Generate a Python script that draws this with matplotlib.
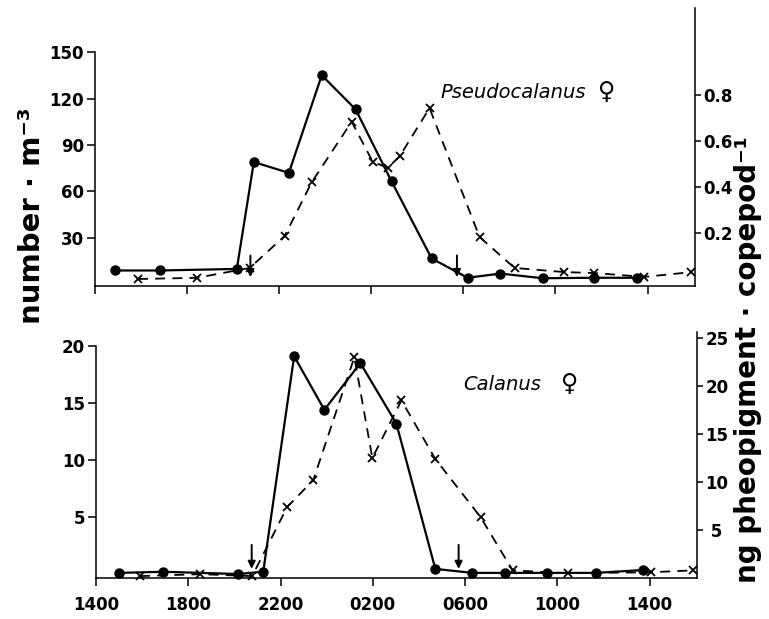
import numpy as np
import matplotlib.pyplot as plt

plt.rcParams['font.family'] = 'DejaVu Sans'
plt.rcParams['axes.linewidth'] = 1.1

# time axis: hours after 1400 h on day 1
tick_hr = [0, 4, 8, 12, 16, 20, 24]
tick_lab = ["1400", "1800", "2200", "0200", "0600", "1000", "1400"]
arrow_hr = [6.75, 15.72]   # sunset / sunrise

## Pseudocalanus females
pc_hr = [0.87, 2.82, 6.16, 6.9, 8.42, 9.85, 11.32, 12.88, 14.62, 16.18, 17.61, 19.44, 21.69, 23.56]
pc_num = [9, 9, 10, 79, 72, 135, 113, 66.5, 16.8, 4.3, 7.0, 4.0, 4.3, 4.3]
pc_pig_hr = [1.87, 4.43, 6.72, 8.24, 9.41, 11.15, 12.06, 12.71, 13.23, 14.53, 16.7, 18.22, 20.39, 21.69, 23.86, 25.9]
pc_pig = [0.0, 0.005, 0.048, 0.187, 0.42, 0.684, 0.51, 0.483, 0.533, 0.743, 0.183, 0.048, 0.03, 0.026, 0.009, 0.03]

## Calanus females
cal_hr = [1.0, 2.91, 6.16, 7.25, 8.59, 9.9, 11.46, 13.02, 14.71, 16.32, 17.75, 19.57, 21.66, 23.7]
cal_num = [0.1, 0.2, 0.0, 0.2, 19.1, 14.4, 18.5, 13.2, 0.45, 0.1, 0.1, 0.1, 0.1, 0.35]
cal_pig_hr = [1.91, 4.51, 6.77, 8.29, 9.42, 11.2, 11.98, 13.24, 14.71, 16.67, 18.06, 20.44, 24.05, 25.9]
cal_pig = [0.2, 0.4, 0.2, 7.4, 10.2, 23.0, 12.5, 18.5, 12.4, 6.35, 0.8, 0.5, 0.6, 0.8]

fig = plt.figure(figsize=(7.69, 6.19), dpi=100)
ax1 = fig.add_axes([0.1235, 0.538, 0.780, 0.449])
ax2 = fig.add_axes([0.1248, 0.0662, 0.7815, 0.397])
ax1r = ax1.twinx()
ax2r = ax2.twinx()

tickfont = dict(fontsize=12, fontweight='bold')


def style_pair(ax, axr, ylim, ytop, yticks, rlim, rticks, rlabels, xlabels):
    ax.set_xlim(0, 26.05)
    ax.set_ylim(*ylim)
    axr.set_ylim(*rlim)
    for a in (ax, axr):
        a.spines['top'].set_visible(False)
    ax.spines['right'].set_visible(False)
    axr.spines['left'].set_visible(False)
    axr.spines['bottom'].set_visible(False)
    ax.spines['left'].set_bounds(ylim[0], ytop)
    ax.set_yticks(yticks)
    ax.set_yticklabels([str(v) for v in yticks], **tickfont)
    axr.set_yticks(rticks)
    axr.set_yticklabels(rlabels, **tickfont)
    ax.set_xticks(tick_hr)
    if xlabels:
        ax.set_xticklabels(tick_lab, **tickfont)
    else:
        ax.set_xticklabels([])
    ax.tick_params(axis='x', direction='out', length=6, width=1.1, pad=7)
    ax.tick_params(axis='y', direction='out', length=6, width=1.1, pad=2)
    axr.tick_params(axis='y', direction='out', length=4, width=1.1, pad=2)


style_pair(ax1, ax1r, (-1, 178.4), 150, [30, 60, 90, 120, 150],
           (-0.0304, 1.178), [0.2, 0.4, 0.6, 0.8], ["0.2", "0.4", "0.6", "0.8"], False)
style_pair(ax2, ax2r, (-0.35, 21.2), 20, [5, 10, 15, 20],
           (0, 25.6), [5, 10, 15, 20, 25], [" 5", "10", "15", "20", "25"], True)

# numbers (solid, circles) and pigment (dashed, crosses)
ax1.plot(pc_hr, pc_num, '-', color='black', lw=1.6, marker='o', ms=6.5, zorder=3, clip_on=False)
ax1r.plot(pc_pig_hr, pc_pig, '--', color='black', lw=1.3, dashes=(5.5, 4),
          marker='x', ms=5.5, mew=1.3, clip_on=False)
ax2.plot(cal_hr, cal_num, '-', color='black', lw=1.6, marker='o', ms=6.5, zorder=3, clip_on=False)
ax2r.plot(cal_pig_hr, cal_pig, '--', color='black', lw=1.3, dashes=(5.5, 4),
          marker='x', ms=5.5, mew=1.3, clip_on=False)

for h in arrow_hr:
    ax1.annotate('', xy=(h, 2.9), xytext=(h, 20.5),
                 arrowprops=dict(arrowstyle='-|>', color='black', lw=1.4, mutation_scale=11))
    ax2.annotate('', xy=(h, 0.2), xytext=(h, 2.8),
                 arrowprops=dict(arrowstyle='-|>', color='black', lw=1.4, mutation_scale=11))

# species labels
fig.text(440 / 769, 1 - 92 / 619, "Pseudocalanus", fontsize=14, style='italic', va='center')
fig.text(607 / 769, 1 - 92 / 619, "\u2640", fontsize=17, ha='center', va='center')
fig.text(463 / 769, 1 - 384 / 619, "Calanus", fontsize=14, style='italic', va='center')
fig.text(570 / 769, 1 - 384 / 619, "\u2640", fontsize=17, ha='center', va='center')

# axis titles
fig.text(32 / 769, 1 - 216 / 619, "number \u00b7 m\u207b\u00b3", rotation=90,
         fontsize=21, fontweight='bold', ha='center', va='center')
fig.text(748 / 769, 1 - 360 / 619, "ng pheopigment \u00b7 copepod\u207b\u00b9", rotation=90,
         fontsize=20, fontweight='bold', ha='center', va='center')

fig.savefig('out.png', dpi=100)
